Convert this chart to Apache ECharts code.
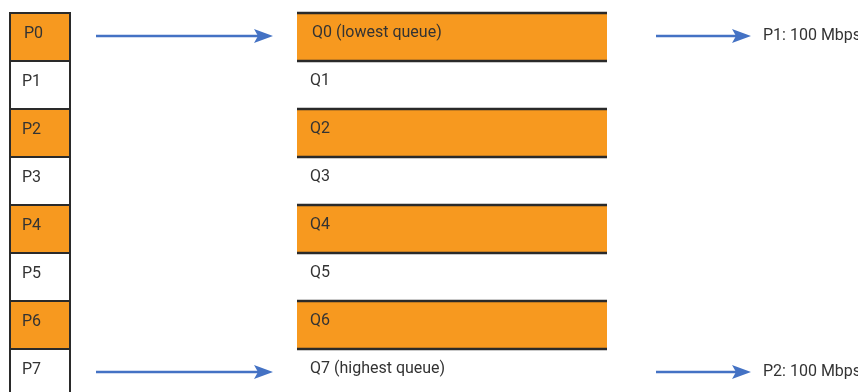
<!DOCTYPE html>
<html>
<head>
<meta charset="utf-8">
<script src="https://cdn.jsdelivr.net/npm/echarts@6/dist/echarts.min.js"></script>
<style>
html,body{margin:0;padding:0;background:#fff;}
#chart{width:858px;height:392px;}
</style>
</head>
<body>
<div id="chart"></div>
<script>
// ---- data ----
const ports = ['P0', 'P1', 'P2', 'P3', 'P4', 'P5', 'P6', 'P7'];
const queues = ['Q0 (lowest queue)', 'Q1', 'Q2', 'Q3', 'Q4', 'Q5', 'Q6', 'Q7 (highest queue)'];
const rowHighlighted = [true, false, true, false, true, false, true, false];
// port -> queue mappings (indices into ports / queues)
const flowPorts = [0, 7];
const flowQueues = [0, 7];
// queue -> egress port
const egressQueues = [0, 7];
const egressLabels = ['P1: 100 Mbps', 'P2: 100 Mbps'];

// ---- style / layout ----
const ORANGE = '#F7991F';
const LINE = '#2a2a2a';
const TEXT = '#333333';
const BLUE = '#4472C4';
const FONT = '16px Roboto';

const chart = echarts.init(document.getElementById('chart'), null, {renderer: 'canvas'});

function arrow(x1, x2, y) {
  const head = 19, half = 7, notch = 4;
  return [
    {type: 'line', shape: {x1: x1, y1: y, x2: x2 - head + notch, y2: y},
     style: {stroke: BLUE, lineWidth: 2.5}},
    {type: 'polygon', shape: {points: [[x2, y], [x2 - head, y - half], [x2 - head + notch, y], [x2 - head, y + half]]},
     style: {fill: BLUE}}
  ];
}

const option = {
  animation: false,
  grid: {left: 0, right: 0, top: 13, height: 8 * 48, containLabel: false, outerBoundsMode: 'none'},
  xAxis: {type: 'value', min: 0, max: 858, show: false},
  yAxis: {type: 'category', data: ports, inverse: true, show: false},
  series: [
    {
      type: 'custom',
      name: 'ports',
      clip: false,
      data: ports.map((p, i) => [0, i]),
      renderItem: function (params, api) {
        const i = api.value(1);
        const c = api.coord([0, i]);
        const h = api.size([0, 1])[1];
        const x0 = api.coord([10, i])[0], x1 = api.coord([70, i])[0];
        return {type: 'group', children: [
          {type: 'rect', shape: {x: x0, y: c[1] - h / 2, width: x1 - x0, height: h},
           style: {fill: rowHighlighted[i] ? ORANGE : '#fff', stroke: LINE, lineWidth: 2}},
          {type: 'text', style: {text: ports[i], x: x0 + (i === 0 ? 14 : 12), y: c[1] - 3,
            verticalAlign: 'middle', align: 'left', fill: TEXT, font: FONT}}
        ]};
      }
    },
    {
      type: 'custom',
      name: 'queues',
      clip: false,
      data: queues.map((q, i) => [0, i]),
      renderItem: function (params, api) {
        const i = api.value(1);
        const c = api.coord([0, i]);
        const h = api.size([0, 1])[1];
        const x0 = api.coord([297, i])[0], x1 = api.coord([607, i])[0];
        const top = c[1] - h / 2, bot = c[1] + h / 2;
        const children = [];
        if (rowHighlighted[i]) {
          children.push({type: 'rect', shape: {x: x0, y: top, width: x1 - x0, height: h}, style: {fill: ORANGE}});
          children.push({type: 'line', shape: {x1: x0, y1: top, x2: x1, y2: top}, style: {stroke: LINE, lineWidth: 2.5}});
          children.push({type: 'line', shape: {x1: x0, y1: bot, x2: x1, y2: bot}, style: {stroke: LINE, lineWidth: 2.5}});
        }
        children.push({type: 'text', style: {text: queues[i], x: x0 + (i === 0 ? 15 : 13), y: c[1] - 4,
          verticalAlign: 'middle', align: 'left', fill: TEXT, font: FONT}});
        return {type: 'group', children: children};
      }
    },
    {
      type: 'custom',
      name: 'ingress',
      clip: false,
      data: flowPorts.map((p, k) => [p, flowQueues[k]]),
      renderItem: function (params, api) {
        const i = api.value(0);
        const y = api.coord([0, i])[1] - 1;
        const xa = api.coord([96, i])[0], xb = api.coord([273, i])[0];
        return {type: 'group', children: arrow(xa, xb, y)};
      }
    },
    {
      type: 'custom',
      name: 'egress',
      clip: false,
      data: egressQueues.map((q, k) => [q, k]),
      renderItem: function (params, api) {
        const i = api.value(0), k = api.value(1);
        const y = api.coord([0, i])[1] - 1;
        const xa = api.coord([656, i])[0], xb = api.coord([751, i])[0];
        const ch = arrow(xa, xb, y);
        ch.push({type: 'text', style: {text: egressLabels[k], x: api.coord([763, i])[0], y: y,
          verticalAlign: 'middle', align: 'left', fill: TEXT, font: FONT}});
        return {type: 'group', children: ch};
      }
    }
  ]
};
chart.setOption(option);
</script>
</body>
</html>
